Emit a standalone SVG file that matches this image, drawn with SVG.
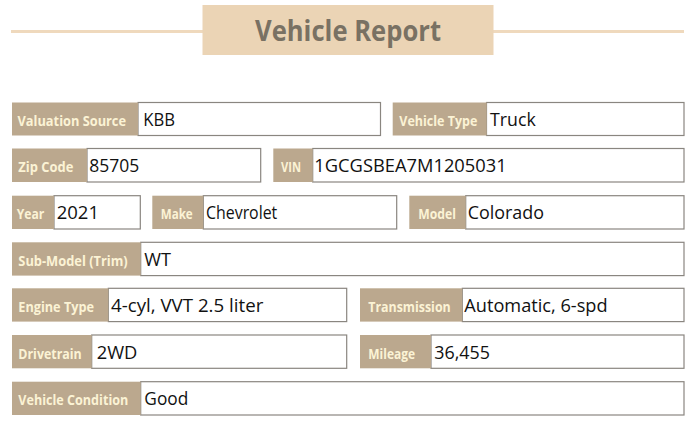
<svg xmlns="http://www.w3.org/2000/svg" width="700" height="431" viewBox="0 0 700 431">
<style>
.bg{fill:#ffffff}
.rule{stroke:#efd9bd;stroke-width:3}
.tbox{fill:#ebd4b5}
.title{font-family:"Open Sans","Noto Sans",sans-serif;font-weight:700;font-size:28px;fill:#797163}
.lab{fill:#bba88e}
.val{fill:#ffffff;stroke:#8a8680;stroke-width:1.2}
.lt{font-family:"Open Sans","Noto Sans",sans-serif;font-weight:700;font-size:14px;fill:#fbf3d5}
.vt{font-family:"Open Sans","Noto Sans",sans-serif;font-size:17.5px;fill:#111111}
</style>
<rect class="bg" x="0" y="0" width="700" height="431"/>
<g id="header">
<line class="rule" x1="11" y1="31.5" x2="203" y2="31.5"/>
<line class="rule" x1="493" y1="31.5" x2="684" y2="31.5"/>
<rect class="tbox" x="202.5" y="5" width="291" height="50"/>
<text class="title" x="255" y="41" textLength="186" lengthAdjust="spacingAndGlyphs">Vehicle Report</text>
</g>
<g id="valuation-source">
<rect class="val" x="138" y="102.5" width="242.5" height="33"/>
<rect class="lab" x="12" y="102.5" width="126" height="33"/>
<text class="lt" x="17.5" y="126" textLength="108.5" lengthAdjust="spacingAndGlyphs">Valuation Source</text>
<text class="vt" x="143.3" y="126" textLength="31.7" lengthAdjust="spacingAndGlyphs">KBB</text>
</g>
<g id="vehicle-type">
<rect class="val" x="486.5" y="102.5" width="197.5" height="33"/>
<rect class="lab" x="392.7" y="102.5" width="94" height="33"/>
<text class="lt" x="399.3" y="126" textLength="78" lengthAdjust="spacingAndGlyphs">Vehicle Type</text>
<text class="vt" x="490" y="126" textLength="45.7" lengthAdjust="spacingAndGlyphs">Truck</text>
</g>
<g id="zip-code">
<rect class="val" x="87" y="148.5" width="173.7" height="33.5"/>
<rect class="lab" x="12" y="148.5" width="75" height="33.5"/>
<text class="lt" x="18.3" y="172" textLength="55" lengthAdjust="spacingAndGlyphs">Zip Code</text>
<text class="vt" x="89.3" y="172" textLength="50" lengthAdjust="spacingAndGlyphs">85705</text>
</g>
<g id="vin">
<rect class="val" x="312.7" y="148.5" width="371.3" height="33.5"/>
<rect class="lab" x="273.3" y="148.5" width="39.4" height="33.5"/>
<text class="lt" x="281" y="172" textLength="20" lengthAdjust="spacingAndGlyphs">VIN</text>
<text class="vt" x="314.3" y="172" textLength="192.4" lengthAdjust="spacingAndGlyphs">1GCGSBEA7M1205031</text>
</g>
<g id="year">
<rect class="val" x="54" y="195.7" width="86.3" height="33.3"/>
<rect class="lab" x="12" y="195.7" width="42" height="33.3"/>
<text class="lt" x="16.7" y="219.2" textLength="27.6" lengthAdjust="spacingAndGlyphs">Year</text>
<text class="vt" x="56.7" y="219.2" textLength="42.3" lengthAdjust="spacingAndGlyphs">2021</text>
</g>
<g id="make">
<rect class="val" x="203.3" y="195.7" width="193.4" height="33.3"/>
<rect class="lab" x="152.3" y="195.7" width="51" height="33.3"/>
<text class="lt" x="160.7" y="219.2" textLength="32" lengthAdjust="spacingAndGlyphs">Make</text>
<text class="vt" x="206" y="219.2" textLength="71.3" lengthAdjust="spacingAndGlyphs">Chevrolet</text>
</g>
<g id="model">
<rect class="val" x="465.7" y="195.7" width="218.3" height="33.3"/>
<rect class="lab" x="409.3" y="195.7" width="56.4" height="33.3"/>
<text class="lt" x="418.3" y="219.2" textLength="37.7" lengthAdjust="spacingAndGlyphs">Model</text>
<text class="vt" x="467.7" y="219.2" textLength="76.3" lengthAdjust="spacingAndGlyphs">Colorado</text>
</g>
<g id="sub-model">
<rect class="val" x="140.7" y="242.3" width="543.3" height="33.3"/>
<rect class="lab" x="12" y="242.3" width="128.7" height="33.3"/>
<text class="lt" x="18.3" y="265.8" textLength="109.4" lengthAdjust="spacingAndGlyphs">Sub-Model (Trim)</text>
<text class="vt" x="144.3" y="265.8" textLength="26.7" lengthAdjust="spacingAndGlyphs">WT</text>
</g>
<g id="engine-type">
<rect class="val" x="108.3" y="288.3" width="238.4" height="33.3"/>
<rect class="lab" x="12" y="288.3" width="96.3" height="33.3"/>
<text class="lt" x="18.3" y="311.8" textLength="75.7" lengthAdjust="spacingAndGlyphs">Engine Type</text>
<text class="vt" x="111" y="311.8" textLength="152.3" lengthAdjust="spacingAndGlyphs">4-cyl, VVT 2.5 liter</text>
</g>
<g id="transmission">
<rect class="val" x="462.3" y="288.3" width="221.7" height="33.3"/>
<rect class="lab" x="360" y="288.3" width="102.3" height="33.3"/>
<text class="lt" x="368.3" y="311.8" textLength="82.4" lengthAdjust="spacingAndGlyphs">Transmission</text>
<text class="vt" x="464.3" y="311.8" textLength="143.3" lengthAdjust="spacingAndGlyphs">Automatic, 6-spd</text>
</g>
<g id="drivetrain">
<rect class="val" x="91.7" y="335" width="255" height="33.3"/>
<rect class="lab" x="12" y="335" width="79.7" height="33.3"/>
<text class="lt" x="18.3" y="358.5" textLength="63.4" lengthAdjust="spacingAndGlyphs">Drivetrain</text>
<text class="vt" x="96.7" y="358.5" textLength="40.7" lengthAdjust="spacingAndGlyphs">2WD</text>
</g>
<g id="mileage">
<rect class="val" x="431" y="335" width="253" height="33.3"/>
<rect class="lab" x="360" y="335" width="71" height="33.3"/>
<text class="lt" x="368.3" y="358.5" textLength="46.7" lengthAdjust="spacingAndGlyphs">Mileage</text>
<text class="vt" x="434.3" y="358.5" textLength="55.7" lengthAdjust="spacingAndGlyphs">36,455</text>
</g>
<g id="vehicle-condition">
<rect class="val" x="140.7" y="381.7" width="543.3" height="33.3"/>
<rect class="lab" x="12" y="381.7" width="128.7" height="33.3"/>
<text class="lt" x="18.3" y="405.2" textLength="110" lengthAdjust="spacingAndGlyphs">Vehicle Condition</text>
<text class="vt" x="144.3" y="405.2" textLength="44" lengthAdjust="spacingAndGlyphs">Good</text>
</g>
<g id="connectors"></g>
</svg>
